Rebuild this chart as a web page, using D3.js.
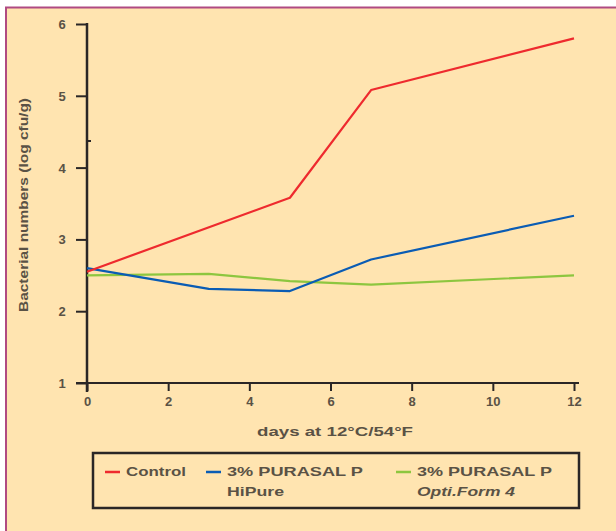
<!DOCTYPE html>
<html><head><meta charset="utf-8">
<script src="https://cdn.jsdelivr.net/npm/d3@7"></script>
<style>body{margin:0;background:#fff}svg{display:block}text{font-family:"Liberation Sans",Arial,sans-serif;font-weight:bold;fill:#5a5245}</style>
</head><body>
<svg id="c" width="616" height="531"></svg>
<script>
const days = [0, 3, 5, 7, 12];
const controlDays = [0, 5, 7, 12];
const controlValues = [2.55, 3.58, 5.08, 5.80];
const hipureValues = [2.60, 2.31, 2.28, 2.72, 3.33];
const optiValues = [2.50, 2.52, 2.42, 2.37, 2.50];
const xTicks = [0, 2, 4, 6, 8, 10, 12];
const yTicks = [1, 2, 3, 4, 5, 6];
const seriesNames = ["Control", "3% PURASAL P|HiPure", "3% PURASAL P|Opti.Form 4"];
const seriesColors = ["#ee2a2e", "#0a5cb4", "#8dc63f"];

const svg = d3.select("#c");
svg.append("rect").attr("x", 6).attr("y", 7.5).attr("width", 640).attr("height", 560)
  .attr("fill", "#ffe4b0").attr("stroke", "#b04a82").attr("stroke-width", 2);

const x = d3.scaleLinear().domain([0, 12]).range([87, 574]);
const y = d3.scaleLinear().domain([1, 6]).range([383, 24]);
const ink = "#2a2626";

// y axis
const ya = svg.append("g").attr("transform", "translate(87,0)")
  .call(d3.axisLeft(y).tickValues(yTicks).tickSize(11).tickPadding(14).tickFormat(d3.format("d")));
ya.select(".domain").remove();
ya.selectAll(".tick line").attr("stroke", ink).attr("stroke-width", 2);
ya.selectAll(".tick text").attr("font-size", 13).attr("text-anchor", "middle").attr("x", -25).attr("dy", "0.35em")
  .style("font-family", "Liberation Sans").style("fill", "#5a5245");
svg.append("line").attr("x1", 87).attr("x2", 87).attr("y1", y(6) - 1).attr("y2", 392)
  .attr("stroke", ink).attr("stroke-width", 2.5);
svg.append("line").attr("x1", 87).attr("x2", 91).attr("y1", 141).attr("y2", 141)
  .attr("stroke", ink).attr("stroke-width", 2);

// x axis
const xa = svg.append("g").attr("transform", "translate(0,383)")
  .call(d3.axisBottom(x).tickValues(xTicks).tickSize(8).tickPadding(6).tickFormat(d3.format("d")));
xa.select(".domain").remove();
xa.selectAll(".tick line").attr("stroke", ink).attr("stroke-width", 2);
xa.selectAll(".tick text").attr("font-size", 13).style("font-family", "Liberation Sans").style("fill", "#5a5245");
svg.append("line").attr("x1", 76).attr("x2", 579).attr("y1", 383).attr("y2", 383)
  .attr("stroke", ink).attr("stroke-width", 2);

// titles
svg.append("text").attr("x", 335).attr("y", 436).attr("text-anchor", "middle").attr("font-size", 12)
  .attr("textLength", 156).attr("lengthAdjust", "spacingAndGlyphs").text("days at 12°C/54°F");
svg.append("text").attr("transform", "translate(28,205) rotate(-90)").attr("text-anchor", "middle").attr("font-size", 12)
  .attr("textLength", 214).attr("lengthAdjust", "spacingAndGlyphs").text("Bacterial numbers (log cfu/g)");

// lines
const line = d3.line().x(d => x(d[0])).y(d => y(d[1]));
const data = [
  d3.zip(controlDays, controlValues),
  d3.zip(days, hipureValues),
  d3.zip(days, optiValues)
];
[2, 1, 0].forEach(i => {
  svg.append("path").datum(data[i]).attr("d", line).attr("fill", "none")
    .attr("stroke", seriesColors[i]).attr("stroke-width", 2.2).attr("stroke-linejoin", "round");
});

// legend
svg.append("rect").attr("x", 93).attr("y", 453).attr("width", 486).attr("height", 55)
  .attr("fill", "none").attr("stroke", ink).attr("stroke-width", 2.5);
const legX = [105, 206, 396];
const lens = [[60], [136, 57], [135, 98]];
seriesNames.forEach((n, i) => {
  svg.append("line").attr("x1", legX[i]).attr("x2", legX[i] + 15).attr("y1", 472).attr("y2", 472)
    .attr("stroke", seriesColors[i]).attr("stroke-width", 2.5);
  n.split("|").forEach((t, j) => {
    svg.append("text").attr("x", legX[i] + 21).attr("y", 476 + j * 20).attr("font-size", 12)
      .attr("font-style", (i === 2 && j === 1) ? "italic" : "normal")
      .attr("textLength", lens[i][j]).attr("lengthAdjust", "spacingAndGlyphs").text(t);
  });
});
</script>
</body></html>
